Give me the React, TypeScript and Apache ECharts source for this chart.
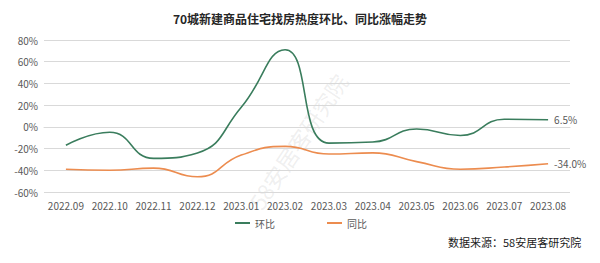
import React, { useEffect, useRef } from "react";
import * as echarts from "echarts";

const categories = ["2022.09", "2022.10", "2022.11", "2022.12", "2023.01", "2023.02", "2023.03", "2023.04", "2023.05", "2023.06", "2023.07", "2023.08"];
const hbValues = [-17, -5, -29, -24, 18, 71, -15, -14, -2, -8, 7, 6.5];
const tbValues = [-39, -40, -38, -46, -26, -18, -25, -24, -32, -39, -37, -34.0];
const yTicks = { min: -60, max: 80, interval: 20 };

export default function App() {
  const ref = useRef<HTMLDivElement>(null);
  useEffect(() => {
    const chart = echarts.init(ref.current!, null, { renderer: "svg" });
    const endLabel = {
      show: true,
      distance: 6,
      color: "#595959",
      fontSize: 10,
      fontFamily: "Noto Sans CJK SC",
      formatter: (p: any) => Number(p.value).toFixed(1) + "%",
    };
    chart.setOption({
      animation: false,
      backgroundColor: "#ffffff",
      title: {
        text: "70城新建商品住宅找房热度环比、同比涨幅走势",
        left: 295,
        textAlign: "center",
        top: 7,
        textStyle: { fontSize: 12, fontWeight: "bold", color: "#262626", fontFamily: "Noto Sans CJK SC" },
      },
      graphic: [
        {
          type: "text",
          left: 448,
          top: 236,
          style: { text: "数据来源：58安居客研究院", fontSize: 11, fill: "#1a1a1a", fontFamily: "Noto Sans CJK SC" },
        },
        {
          type: "text",
          x: 245,
          y: 200,
          rotation: Math.PI / 3.2,
          silent: true,
          z: -1,
          style: { text: "58安居客研究院", fontSize: 22, fill: "rgba(160,160,160,0.18)", fontFamily: "Noto Sans CJK SC" },
        },
      ],
      legend: {
        bottom: 30,
        left: 230,
        itemGap: 52,
        itemWidth: 15,
        itemHeight: 2,
        icon: "rect",
        textStyle: { fontSize: 10, color: "#595959", fontFamily: "Noto Sans CJK SC" },
        data: ["环比", "同比"],
      },
      grid: { left: 44, right: 30, top: 40, bottom: 71 },
      xAxis: {
        type: "category",
        data: categories,
        boundaryGap: true,
        axisLine: { lineStyle: { color: "#d9d9d9" } },
        axisTick: { show: false },
        axisLabel: { color: "#595959", fontSize: 10, margin: 8, fontFamily: "Noto Sans CJK SC", interval: 0 },
      },
      yAxis: {
        type: "value",
        min: yTicks.min,
        max: yTicks.max,
        interval: yTicks.interval,
        axisLine: { show: false },
        axisTick: { show: false },
        splitLine: { lineStyle: { color: "#d9d9d9" } },
        axisLabel: { color: "#595959", fontSize: 10, margin: 6, formatter: "{value}%", fontFamily: "Noto Sans CJK SC" },
      },
      series: [
        {
          name: "环比",
          type: "line",
          data: hbValues,
          smooth: true,
          symbol: "none",
          lineStyle: { color: "#3a7d5d", width: 1.6 },
          itemStyle: { color: "#3a7d5d" },
          endLabel,
        },
        {
          name: "同比",
          type: "line",
          data: tbValues,
          smooth: true,
          symbol: "none",
          lineStyle: { color: "#ec8c4f", width: 1.6 },
          itemStyle: { color: "#ec8c4f" },
          endLabel,
        },
      ],
    });
    return () => chart.dispose();
  }, []);
  return <div ref={ref} style={{ width: 600, height: 263, position: "absolute", left: 0, top: 0 }} />;
}
